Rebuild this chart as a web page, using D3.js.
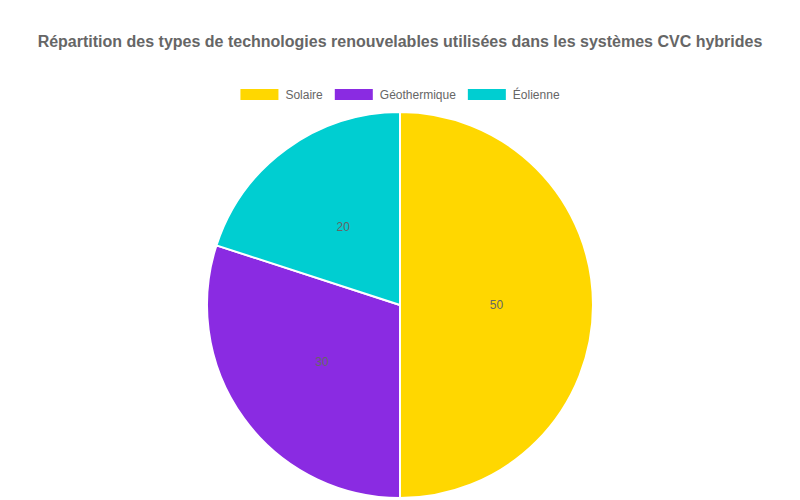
<!DOCTYPE html>
<html><head><meta charset="utf-8">
<script src="https://cdn.jsdelivr.net/npm/d3@7"></script>
<style>body{margin:0;background:#fff}svg{display:block}</style>
</head><body>
<svg id="c" width="800" height="500"></svg>
<script>
const categories = ["Solaire", "Géothermique", "Éolienne"];
const values = [50, 30, 20];
const colors = ["#FFD700", "#8A2BE2", "#00CED1"];
const title = "Répartition des types de technologies renouvelables utilisées dans les systèmes CVC hybrides";

const svg = d3.select("#c");
const font = "'Liberation Sans', Arial, Helvetica, sans-serif";
svg.append("rect").attr("width",800).attr("height",500).attr("fill","#fff");

svg.append("text").attr("x",400).attr("y",46.5).attr("text-anchor","middle")
  .attr("font-family",font).attr("font-size",16).attr("font-weight","bold").attr("fill","#666")
  .text(title);

// legend
const legend = svg.append("g");
const tmp = svg.append("text").attr("font-family",font).attr("font-size",12);
const widths = categories.map(c=>{tmp.text(c); return 38+7+tmp.node().getComputedTextLength();});
tmp.remove();
const gap = 12;
const total = d3.sum(widths)+gap*(categories.length-1);
let x0 = 400 - total/2;
categories.forEach((c,i)=>{
  const g = legend.append("g").attr("transform",`translate(${x0},0)`);
  g.append("rect").attr("x",0).attr("y",89).attr("width",38).attr("height",11).attr("fill",colors[i]);
  g.append("text").attr("x",45).attr("y",99).attr("font-family",font).attr("font-size",12).attr("fill","#666").text(c);
  x0 += widths[i]+gap;
});

const cx=400, cy=305, r=193;
const pie = d3.pie().sort(null).value(d=>d)(values);
const arc = d3.arc().innerRadius(0).outerRadius(r);
const labelArc = d3.arc().innerRadius(r/2).outerRadius(r/2);
const g = svg.append("g").attr("transform",`translate(${cx},${cy})`);
g.selectAll("path").data(pie).join("path").attr("d",arc)
  .attr("fill",(d,i)=>colors[i]).attr("stroke","#fff").attr("stroke-width",2);
g.selectAll("text").data(pie).join("text")
  .attr("transform",d=>`translate(${labelArc.centroid(d)})`)
  .attr("text-anchor","middle").attr("dy","0.35em")
  .attr("font-family",font).attr("font-size",12).attr("fill","#666")
  .text(d=>d.data);
</script>
</body></html>
